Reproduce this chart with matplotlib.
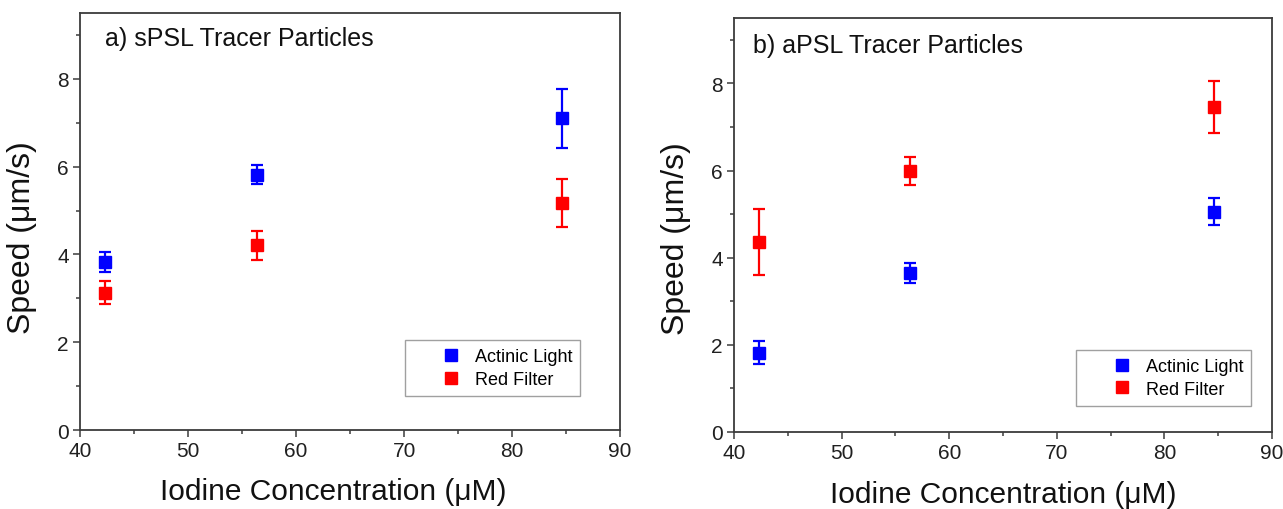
import numpy as np
import matplotlib
matplotlib.use('Agg')
import matplotlib.pyplot as plt
from matplotlib.ticker import MultipleLocator

plt.rcParams['font.family'] = ['Liberation Sans', 'DejaVu Sans']

# iodine concentration (uM)
conc = [42.3, 56.4, 84.6]

# a) sPSL tracer particles
spsl_actinic = [3.83, 5.82, 7.10]
spsl_actinic_err = [0.23, 0.22, 0.67]
spsl_red = [3.13, 4.21, 5.17]
spsl_red_err = [0.27, 0.33, 0.54]

# b) aPSL tracer particles
apsl_actinic = [1.82, 3.64, 5.05]
apsl_actinic_err = [0.27, 0.23, 0.31]
apsl_red = [4.36, 5.99, 7.45]
apsl_red_err = [0.76, 0.32, 0.60]

series_labels = ['Actinic Light', 'Red Filter']
panel_titles = ['a) sPSL Tracer Particles', 'b) aPSL Tracer Particles']

spine_col = '#3c3c3c'

fig = plt.figure(figsize=(12.83, 5.10), dpi=100)
ax1 = fig.add_axes([0.0624, 0.1549, 0.4209, 0.8176])
ax2 = fig.add_axes([0.5721, 0.1510, 0.4193, 0.8118])

panels = [
    (ax1, spsl_actinic, spsl_actinic_err, spsl_red, spsl_red_err,
     (0.046, 0.94), (0.602, 0.0815), 0.468, -0.112, 0.463),
    (ax2, apsl_actinic, apsl_actinic_err, apsl_red, apsl_red_err,
     (0.035, 0.934), (0.636, 0.063), 0.5, -0.115, 0.469),
]

for i, (ax, act, act_e, red, red_e, tpos, lpos, xlx, xly, yly) in enumerate(panels):
    ax.errorbar(conc, act, yerr=act_e, fmt='s', color='#0000ff', ms=8,
                capsize=4.5, elinewidth=1.6, capthick=1.6, label=series_labels[0])
    ax.errorbar(conc, red, yerr=red_e, fmt='s', color='#ff0000', ms=8,
                capsize=4.5, elinewidth=1.6, capthick=1.6, label=series_labels[1])

    ax.set_xlim(40, 90)
    ax.set_ylim(0, 9.5)
    ax.xaxis.set_major_locator(MultipleLocator(10))
    ax.xaxis.set_minor_locator(MultipleLocator(5))
    ax.yaxis.set_major_locator(MultipleLocator(2))
    ax.yaxis.set_minor_locator(MultipleLocator(1))
    ax.tick_params(which='major', direction='out', length=5, width=1.1,
                   color=spine_col, labelsize=15, labelcolor='#202020', pad=3)
    ax.tick_params(which='minor', direction='out', length=3, width=1.1,
                   color=spine_col)
    for sp in ax.spines.values():
        sp.set_color(spine_col)
        sp.set_linewidth(1.3)

    ax.set_xlabel('Iodine Concentration (μM)', fontsize=21.5, color='#111111')
    ax.set_ylabel('Speed (μm/s)', fontsize=23, color='#111111')
    ax.xaxis.set_label_coords(xlx, xly)
    ax.yaxis.set_label_coords(-0.08, yly)

    ax.text(tpos[0], tpos[1], panel_titles[i], transform=ax.transAxes,
            fontsize=18, ha='left', va='center', color='#111111')

    handles, labels = ax.get_legend_handles_labels()
    handles = [h[0] for h in handles]
    leg = ax.legend(handles, labels, loc='lower left', bbox_to_anchor=lpos,
                    borderaxespad=0, fontsize=13, handlelength=4.2,
                    handletextpad=-0.8, borderpad=0.45, labelspacing=0.3,
                    fancybox=False, framealpha=1, edgecolor='#a0a0a0')
    leg.get_frame().set_linewidth(1.0)

fig.savefig('out.png', dpi=100)
